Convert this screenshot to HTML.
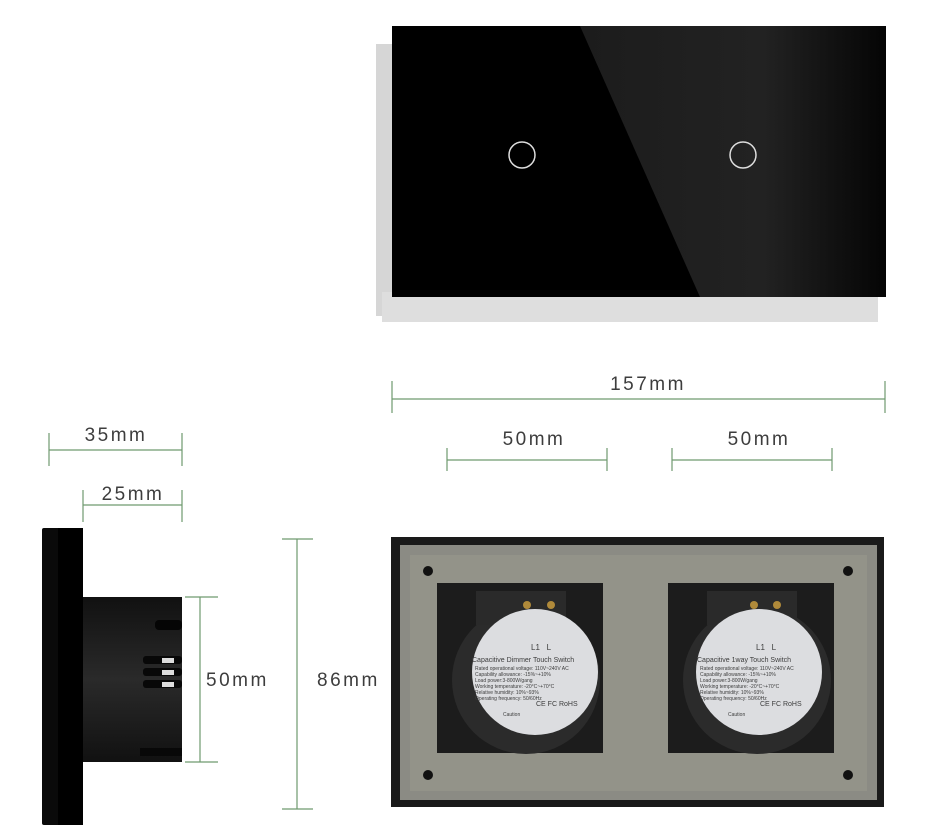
<!DOCTYPE html>
<html><head><meta charset="utf-8"><style>
html,body{margin:0;padding:0;background:#fff;}
svg{display:block;}
text{font-family:"Liberation Sans",sans-serif;fill:#3d3d3d;}
</style></head><body>
<svg width="928" height="839" viewBox="0 0 928 839" xmlns="http://www.w3.org/2000/svg">
<defs>
<linearGradient id="bd" x1="0" y1="0" x2="0" y2="1">
<stop offset="0" stop-color="#111"/><stop offset="0.5" stop-color="#2a2a2a"/><stop offset="1" stop-color="#111"/>
</linearGradient>
<linearGradient id="rg" x1="0" y1="0" x2="1" y2="0">
<stop offset="0" stop-color="#1c1c1c"/><stop offset="0.6" stop-color="#222"/><stop offset="1" stop-color="#050505"/>
</linearGradient>
</defs>
<!-- front panel -->
<rect x="376" y="44" width="500" height="272" fill="#d6d6d6"/>
<rect x="382" y="292" width="496" height="30" fill="#dedede"/>
<rect x="392" y="26" width="494" height="271" fill="#000"/>
<polygon points="580,26 886,26 886,297 700,297" fill="url(#rg)"/>
<circle cx="522" cy="155" r="13" fill="none" stroke="#ddd" stroke-width="1.5"/>
<circle cx="743" cy="155" r="13" fill="none" stroke="#ddd" stroke-width="1.5"/>

<!-- dimension lines -->
<g stroke="#6f9a6f" stroke-width="1.2">
<line x1="392" y1="399" x2="885" y2="399"/><line x1="392" y1="381" x2="392" y2="413"/><line x1="885" y1="381" x2="885" y2="413"/>
<line x1="447" y1="460" x2="607" y2="460"/><line x1="447" y1="448" x2="447" y2="471"/><line x1="607" y1="448" x2="607" y2="471"/>
<line x1="672" y1="460" x2="832" y2="460"/><line x1="672" y1="448" x2="672" y2="471"/><line x1="832" y1="448" x2="832" y2="471"/>
<line x1="49" y1="450" x2="182" y2="450"/><line x1="49" y1="433" x2="49" y2="466"/><line x1="182" y1="433" x2="182" y2="466"/>
<line x1="83" y1="505" x2="182" y2="505"/><line x1="83" y1="490" x2="83" y2="522"/><line x1="182" y1="490" x2="182" y2="522"/>
<line x1="200" y1="597" x2="200" y2="762"/><line x1="185" y1="597" x2="218" y2="597"/><line x1="185" y1="762" x2="218" y2="762"/>
<line x1="297" y1="539" x2="297" y2="809"/><line x1="282" y1="539" x2="313" y2="539"/><line x1="282" y1="809" x2="313" y2="809"/>
</g>
<g font-size="19" letter-spacing="2.5">
<text x="648" y="390" text-anchor="middle">157mm</text>
<text x="534" y="445" text-anchor="middle">50mm</text>
<text x="759" y="445" text-anchor="middle">50mm</text>
<text x="116" y="441" text-anchor="middle">35mm</text>
<text x="133" y="500" text-anchor="middle">25mm</text>
<text x="206" y="686">50mm</text>
<text x="317" y="686">86mm</text>
</g>

<!-- side view -->
<rect x="42" y="528" width="41" height="297" rx="2" fill="#0a0a0a"/>
<rect x="58" y="528" width="25" height="297" fill="#000"/>
<rect x="83" y="597" width="99" height="165" fill="url(#bd)"/>
<rect x="155" y="620" width="27" height="10" rx="4" fill="#050505"/>
<rect x="143" y="656" width="39" height="8" rx="3" fill="#080808"/>
<rect x="143" y="668" width="39" height="8" rx="3" fill="#080808"/>
<rect x="143" y="680" width="39" height="8" rx="3" fill="#080808"/>
<rect x="162" y="658" width="12" height="5" fill="#ddd"/>
<rect x="162" y="670" width="12" height="5" fill="#ddd"/>
<rect x="162" y="682" width="12" height="5" fill="#ddd"/>
<rect x="140" y="748" width="42" height="8" fill="#080808"/>

<!-- back view -->
<rect x="391" y="537" width="493" height="270" fill="#1a1a1a"/>
<rect x="400" y="545" width="477" height="255" fill="#8b8b84"/>
<rect x="410" y="555" width="457" height="236" fill="#939389"/>
<g fill="#111">
<circle cx="428" cy="571" r="5"/><circle cx="848" cy="571" r="5"/>
<circle cx="428" cy="775" r="5"/><circle cx="848" cy="775" r="5"/>
</g>
<g>
<rect x="437" y="583" width="166" height="170" fill="#1c1c1c"/>
<rect x="668" y="583" width="166" height="170" fill="#1c1c1c"/>
<circle cx="526" cy="680" r="74" fill="#2b2b2b"/>
<circle cx="757" cy="680" r="74" fill="#2b2b2b"/>
<rect x="476" y="591" width="90" height="34" fill="#2a2a2a"/>
<rect x="707" y="591" width="90" height="34" fill="#2a2a2a"/>
<circle cx="535" cy="672" r="63" fill="#dcdde0"/>
<circle cx="759" cy="672" r="63" fill="#dcdde0"/>
<circle cx="527" cy="605" r="4" fill="#b08a3a"/><circle cx="551" cy="605" r="4" fill="#b08a3a"/>
<circle cx="754" cy="605" r="4" fill="#b08a3a"/><circle cx="777" cy="605" r="4" fill="#b08a3a"/>
</g>
<g font-size="5" style="fill:#333">
<text x="531" y="650" font-size="8">L1&#160;&#160;&#160;L</text>
<text x="472" y="662" font-size="7">Capacitive Dimmer Touch Switch</text>
<text x="475" y="670">Rated operational voltage: 110V~240V AC</text>
<text x="475" y="676">Capability allowance: -15%~+10%</text>
<text x="475" y="682">Load power:3-800W/gang</text>
<text x="475" y="688">Working temperature: -20°C~+70°C</text>
<text x="475" y="694">Relative humidity: 10%~93%</text>
<text x="475" y="700">Operating frequency: 50/60Hz</text>
<text x="536" y="706" font-size="7">CE FC RoHS</text>
<text x="503" y="716">Caution</text>
<text x="756" y="650" font-size="8">L1&#160;&#160;&#160;L</text>
<text x="697" y="662" font-size="7">Capacitive 1way Touch Switch</text>
<text x="700" y="670">Rated operational voltage: 110V~240V AC</text>
<text x="700" y="676">Capability allowance: -15%~+10%</text>
<text x="700" y="682">Load power:3-800W/gang</text>
<text x="700" y="688">Working temperature: -20°C~+70°C</text>
<text x="700" y="694">Relative humidity: 10%~93%</text>
<text x="700" y="700">Operating frequency: 50/60Hz</text>
<text x="760" y="706" font-size="7">CE FC RoHS</text>
<text x="728" y="716">Caution</text>
</g>
</svg>
</body></html>
